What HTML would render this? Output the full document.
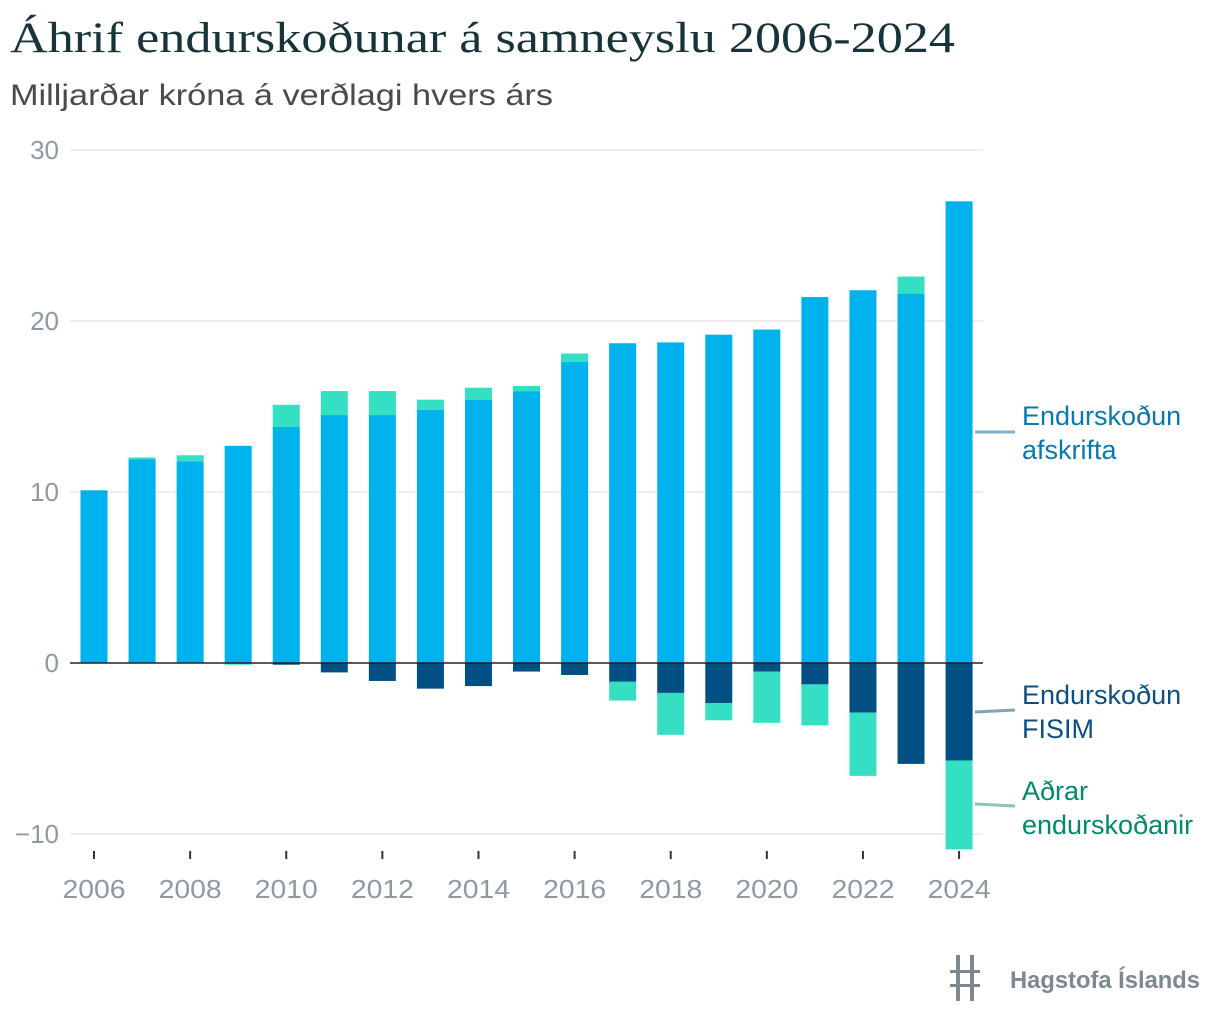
<!DOCTYPE html>
<html><head><meta charset="utf-8">
<style>
body{margin:0;width:1220px;height:1028px;background:#fff;overflow:hidden;font-family:"Liberation Sans",sans-serif;}
</style></head>
<body>
<svg width="1220" height="1028" xmlns="http://www.w3.org/2000/svg">
<text x="10" y="52" font-family="Liberation Serif, serif" font-size="43" fill="#17343a" textLength="945" lengthAdjust="spacingAndGlyphs">Áhrif endurskoðunar á samneyslu 2006-2024</text>
<text x="10" y="105" font-size="30" fill="#4a4a4a" textLength="543" lengthAdjust="spacingAndGlyphs">Milljarðar króna á verðlagi hvers árs</text>
<g id="grid"></g>
<g id="bars"></g>
<line x1="70" x2="983" y1="663" y2="663" stroke="#222" stroke-width="1.5"/>
<g id="xaxis"></g>
<line x1="975" x2="1015" y1="432" y2="432" stroke="#7fb3cc" stroke-width="3"/>
<text x="1022" y="425" font-size="27" fill="#0a78b0"><tspan x="1022">Endurskoðun</tspan><tspan x="1022" dy="34">afskrifta</tspan></text>
<line x1="975" x2="1015" y1="712" y2="710" stroke="#7fa3bd" stroke-width="3"/>
<text x="1022" y="704" font-size="27" fill="#0c4f80"><tspan x="1022">Endurskoðun</tspan><tspan x="1022" dy="34">FISIM</tspan></text>
<line x1="975" x2="1015" y1="804" y2="806" stroke="#88c4b8" stroke-width="3"/>
<text x="1022" y="800" font-size="27" fill="#008a6e"><tspan x="1022">Aðrar</tspan><tspan x="1022" dy="34">endurskoðanir</tspan></text>
<g>
<rect x="956" y="955" width="4" height="46" fill="#7b8a8e"/><rect x="970" y="955" width="4" height="46" fill="#7b8a8e"/>
<rect x="950" y="970" width="30" height="3" fill="#7b8a8e"/><rect x="950" y="984" width="30" height="3" fill="#7b8a8e"/>
<text x="1010" y="988" font-size="24" font-weight="bold" fill="#7b8a8e" textLength="190" lengthAdjust="spacingAndGlyphs">Hagstofa Íslands</text>
</g>
</svg>
<script>
const years=[2006,2007,2008,2009,2010,2011,2012,2013,2014,2015,2016,2017,2018,2019,2020,2021,2022,2023,2024];
const afskrifta=[10.1,11.9,11.8,12.7,13.8,14.5,14.5,14.8,15.4,15.9,17.6,18.7,18.75,19.2,19.5,21.4,21.8,21.6,27.0];
const fisim=[0,0,0,0,-0.1,-0.55,-1.05,-1.5,-1.35,-0.5,-0.7,-1.1,-1.75,-2.35,-0.5,-1.25,-2.9,-5.9,-5.7];
const adrar=[0,0.12,0.35,-0.1,1.3,1.4,1.4,0.6,0.7,0.3,0.5,-1.1,-2.45,-1.0,-3.0,-2.4,-3.7,1.0,-5.2];
const yTicks=[30,20,10,0,-10];
const xTicks=[2006,2008,2010,2012,2014,2016,2018,2020,2022,2024];
const NS="http://www.w3.org/2000/svg";
const y=v=>663-v*17.1;
const x=yr=>94+(yr-2006)*48.06;
const bw=27;
function mk(tag,attrs,parent){const e=document.createElementNS(NS,tag);for(const k in attrs)e.setAttribute(k,attrs[k]);document.getElementById(parent).appendChild(e);return e;}
yTicks.forEach(t=>{
  if(t!==0){const l=mk('line',{x1:70,x2:983,y1:y(t),y2:y(t),stroke:'#dddddd','stroke-width':1},'grid');
  
  }
  const tx=mk('text',{x:59,y:y(t)+9,'text-anchor':'end','font-size':26,fill:'#8d9aa0'},'grid');
  tx.textContent=t===-10?'−10':t;
  
  
});
xTicks.forEach(t=>{
  const l=mk('line',{x1:x(t),x2:x(t),y1:851,y2:859,stroke:'#333','stroke-width':2},'xaxis');
  
  
  const tx=mk('text',{x:x(t),y:898,'text-anchor':'middle','font-size':26,fill:'#8d9aa0',textLength:63,lengthAdjust:'spacingAndGlyphs'},'xaxis');
  tx.textContent=t;
  
  
});
function bar(i,a,b,color,name){
  if(a===b)return;
  const top=Math.min(y(a),y(b)),h=Math.abs(y(a)-y(b));
  const r=mk('rect',{x:x(years[i])-bw/2,y:top,width:bw,height:h,fill:color},'bars');
  
  
}
years.forEach((yr,i)=>{
  let pos=0,neg=0;
  bar(i,0,afskrifta[i],'#00b2ec','bar-afskrifta');pos=afskrifta[i];
  bar(i,0,fisim[i],'#024f84','bar-fisim');neg=fisim[i];
  if(adrar[i]>=0)bar(i,pos,pos+adrar[i],'#35dfc1','bar-adrar');
  else bar(i,neg,neg+adrar[i],'#35dfc1','bar-adrar');
});
</script>
</body></html>
